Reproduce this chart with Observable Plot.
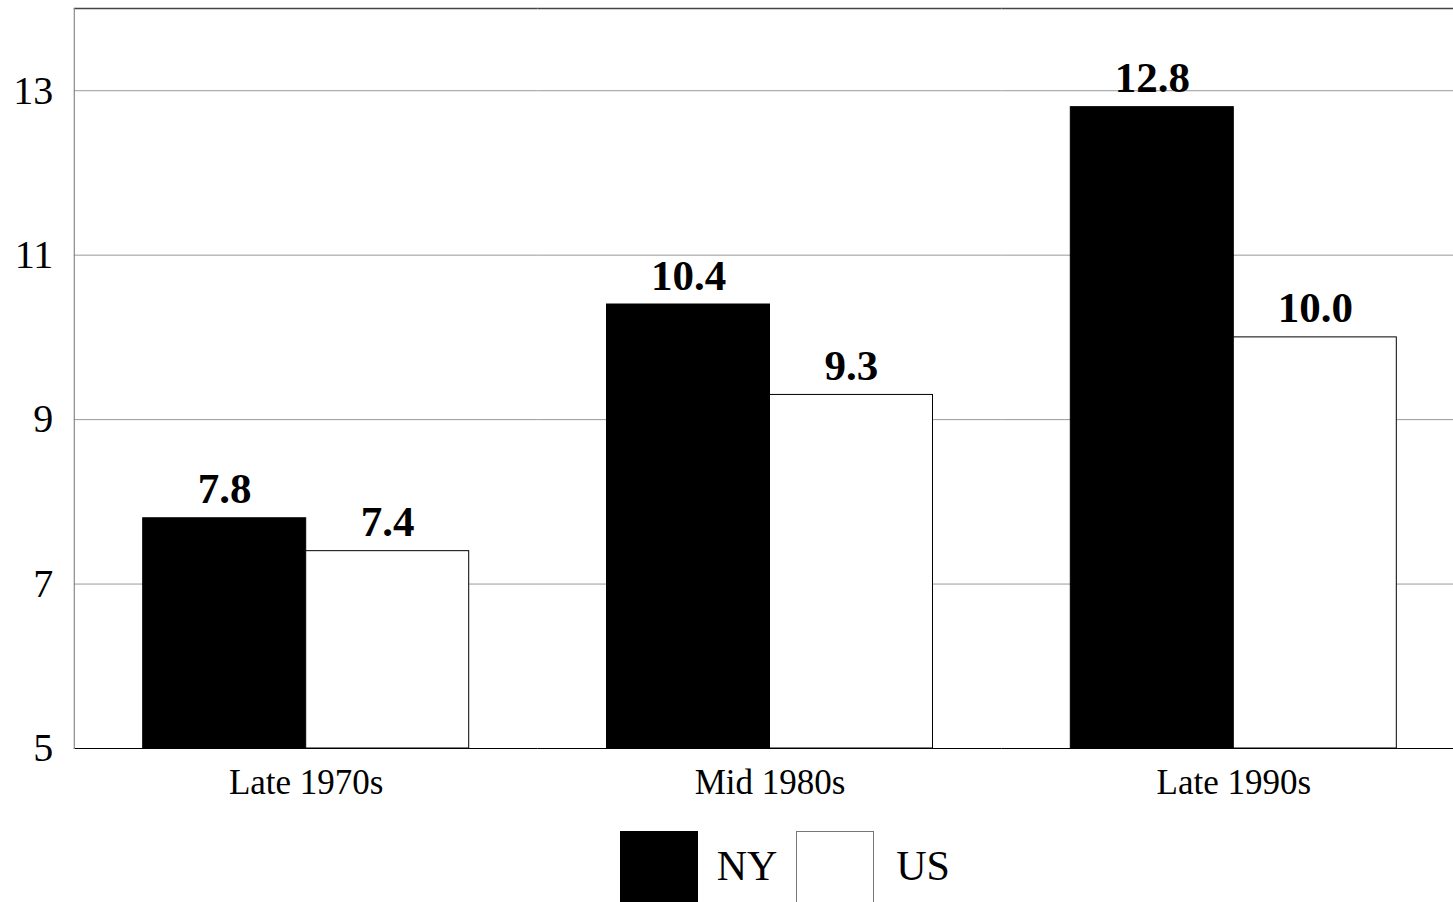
<!DOCTYPE html>
<html>
<head>
<meta charset="utf-8">
<script src="https://cdn.jsdelivr.net/npm/d3@7"></script>
<script src="https://cdn.jsdelivr.net/npm/@observablehq/plot@0.6"></script>
<style>
  html, body { margin: 0; padding: 0; background: #fff; overflow: hidden; width: 1453px; height: 902px; }
  body { font-family: "Liberation Serif", "Times New Roman", serif; color: #000; }
  #chart svg { display: block; }
  #legend { display: flex; margin-left: 620px; }
  .item { display: flex; align-items: flex-start; }
  .swatch { width: 78px; height: 78px; box-sizing: border-box; }
  .label { width: 98px; text-align: center; font-size: 42px; line-height: 42px; padding-top: 14px; }
</style>
</head>
<body>
<div id="chart"></div>
<div id="legend"></div>
<script>
// Periods on the horizontal axis and the two compared regions
const periods = ["Late 1970s", "Mid 1980s", "Late 1990s"];
const regions = ["NY", "US"];
const regionFill = ["#000000", "#ffffff"];
const regionBorder = ["#000000", "#777777"];

// Values per region, in period order
const nyValues = [7.8, 10.4, 12.8];
const usValues = [7.4, 9.3, 10.0];

// Vertical axis
const yMin = 5;
const yMax = 14;
const yTicks = [5, 7, 9, 11, 13];
const gridValues = [7, 9, 11, 13];

const rows = periods.flatMap((period, i) => [
  {period, region: "NY", value: nyValues[i]},
  {period, region: "US", value: usValues[i]}
]);

const fmt = d3.format(".1f");

const chart = Plot.plot({
  width: 1453,
  height: 831,
  marginLeft: 73.8,
  marginRight: -12.2,
  marginTop: 8,
  marginBottom: 83,
  style: {fontFamily: "'Liberation Serif', 'Times New Roman', serif", background: "white", color: "black", overflow: "hidden"},
  fx: {domain: periods, paddingInner: 0, paddingOuter: 0, round: false, label: null},
  x: {domain: regions, paddingInner: 0, paddingOuter: 0.4227, round: false, axis: null},
  y: {domain: [yMin, yMax], label: null},
  color: {domain: regions, range: regionFill},
  marks: [
    Plot.ruleY(gridValues, {stroke: "#999", strokeWidth: 1}),
    Plot.ruleY([yMax], {stroke: "#444", strokeWidth: 1.5}),
    Plot.barY(rows, {fx: "period", x: "region", y1: yMin, y2: "value", fill: "region", stroke: "#000", strokeWidth: 1}),
    Plot.ruleY([yMin], {stroke: "#000", strokeWidth: 1}),
    // left edge of the plot area, only beside the first period
    Plot.frame({anchor: "left", facetAnchor: "left", stroke: "#888", strokeWidth: 1.2}),
    Plot.text(rows, {
      fx: "period", x: "region", y: "value",
      text: d => fmt(d.value),
      lineAnchor: "bottom", dy: -15,
      fontSize: 43, fontWeight: "bold", fill: "#000"
    }),
    Plot.axisY({ticks: yTicks, tickSize: 0, tickPadding: 21, fontSize: 40, fill: "#000", label: null}),
    Plot.axisFx({anchor: "bottom", tickSize: 0, tickPadding: 21, fontSize: 35, fill: "#000", label: null})
  ]
});
document.getElementById("chart").appendChild(chart);

// Legend: swatch followed by region name
const legend = d3.select("#legend");
regions.forEach((r, i) => {
  const item = legend.append("div").attr("class", "item");
  item.append("div").attr("class", "swatch")
    .style("background", regionFill[i])
    .style("border", `1px solid ${regionBorder[i]}`);
  item.append("div").attr("class", "label").text(r);
});
</script>
</body>
</html>
